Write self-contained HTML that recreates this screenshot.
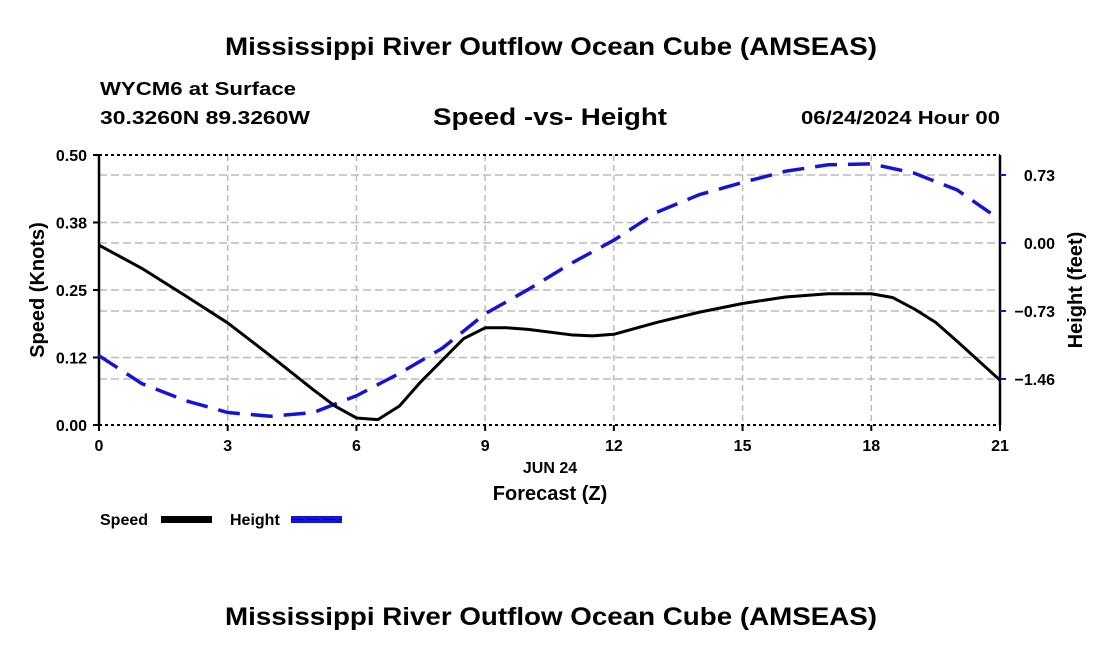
<!DOCTYPE html>
<html><head><meta charset="utf-8"><style>
body{margin:0;background:#fff}
svg{display:block;font-family:"Liberation Sans",sans-serif;font-weight:bold}
</style></head><body>
<svg id="chart" width="1100" height="650" viewBox="0 0 1100 650" xmlns="http://www.w3.org/2000/svg">
<rect width="1100" height="650" fill="#fff"/>
<text x="225" y="55" font-size="25" textLength="652" lengthAdjust="spacingAndGlyphs">Mississippi River Outflow Ocean Cube (AMSEAS)</text>
<text x="100" y="95" font-size="18" textLength="196" lengthAdjust="spacingAndGlyphs">WYCM6 at Surface</text>
<text x="100" y="124" font-size="18" textLength="210" lengthAdjust="spacingAndGlyphs">30.3260N  89.3260W</text>
<text x="433" y="125" font-size="24" textLength="234" lengthAdjust="spacingAndGlyphs">Speed -vs- Height</text>
<text x="801" y="124" font-size="18" textLength="199" lengthAdjust="spacingAndGlyphs">06/24/2024 Hour 00</text>
<g id="grid"></g>
<g id="axes"></g>
<g id="series"></g>
<text x="550" y="473" font-size="16" text-anchor="middle">JUN 24</text>
<text x="550" y="500" font-size="20" text-anchor="middle">Forecast (Z)</text>
<text transform="translate(44,290) rotate(-90)" font-size="20" text-anchor="middle">Speed (Knots)</text>
<text transform="translate(1082,290) rotate(-90)" font-size="20" text-anchor="middle">Height (feet)</text>
<g>
<text x="100" y="525" font-size="16">Speed</text>
<rect x="161" y="516" width="51" height="7" fill="#000"/>
<text x="230" y="525" font-size="16">Height</text>
<rect x="291" y="516" width="51" height="7" fill="#1414d8"/>
<line x1="291" y1="519.5" x2="342" y2="519.5" stroke="#0000a0" stroke-width="1" stroke-dasharray="12,4"/>
</g>
<text x="225" y="625" font-size="25" textLength="652" lengthAdjust="spacingAndGlyphs">Mississippi River Outflow Ocean Cube (AMSEAS)</text>
</svg>
<script>
const hours=[0,1,2,3,4,5,5.5,6,6.5,7,7.5,8,8.5,9,9.5,10,11,11.5,12,13,14,15,16,17,18,18.5,19,19.5,20,21];
const speed=[0.333,0.29,0.24,0.189,0.128,0.065,0.035,0.013,0.01,0.035,0.08,0.12,0.16,0.18,0.18,0.177,0.167,0.165,0.168,0.19,0.209,0.225,0.237,0.243,0.243,0.236,0.215,0.19,0.155,0.083];
const hHours=[0,1,2,3,4,5,6,7,8,9,10,11,12,13,14,15,16,17,18,19,20,21];
const height=[-1.21,-1.51,-1.69,-1.82,-1.86,-1.82,-1.64,-1.40,-1.13,-0.76,-0.50,-0.22,0.03,0.33,0.52,0.65,0.77,0.84,0.85,0.75,0.57,0.25];
const xTicks=[0,3,6,9,12,15,18,21];
const leftTicks=[0,0.125,0.25,0.375,0.5];
const leftLabels=["0.00","0.12","0.25","0.38","0.50"];
const rightTicks=[-1.46,-0.73,0,0.73];
const rightLabels=["\u22121.46","\u22120.73","0.00","0.73"];
const NS="http://www.w3.org/2000/svg";
const X0=99,X1=1000,Y0=425,Y1=155;
const xs=h=>X0+(X1-X0)*h/21;
const ysL=v=>Y0-(Y0-Y1)*v/0.5;
const ysR=v=>243-v*(68/0.73);
function mk(tag,attrs,parent){const e=document.createElementNS(NS,tag);for(const k in attrs)e.setAttribute(k,attrs[k]);parent.appendChild(e);return e;}
const grid=document.getElementById('grid'),axes=document.getElementById('axes'),series=document.getElementById('series');
xTicks.forEach(t=>{if(t>0&&t<21){const l=mk('line',{x1:xs(t),x2:xs(t),y1:Y1,y2:Y0,stroke:'#bbb','stroke-width':1.5,'stroke-dasharray':'6,4'},grid);}});
leftTicks.forEach(t=>{if(t>0&&t<0.5){const l=mk('line',{x1:X0,x2:X1,y1:ysL(t),y2:ysL(t),stroke:'#bbb','stroke-width':1.5,'stroke-dasharray':'8,4'},grid);}});
rightTicks.forEach(t=>{const l=mk('line',{x1:X0,x2:X1,y1:ysR(t),y2:ysR(t),stroke:'#bbb','stroke-width':1.5,'stroke-dasharray':'8,4'},grid);});
[[X0,Y1,X1,Y1],[X0,Y0,X1,Y0]].forEach(c=>{const l=mk('line',{x1:c[0],y1:c[1],x2:c[2],y2:c[3],stroke:'#000','stroke-width':2,'stroke-dasharray':'3,3'},axes);});
[[X0,Y1,X0,Y0],[X1,Y1,X1,Y0]].forEach(c=>{const l=mk('line',{x1:c[0],y1:c[1],x2:c[2],y2:c[3],stroke:'#000','stroke-width':2.5},axes);});
xTicks.forEach(t=>{
 const l=mk('line',{x1:xs(t),x2:xs(t),y1:Y0,y2:Y0+6,stroke:'#000','stroke-width':2},axes);
 const tx=mk('text',{x:xs(t),y:Y0+26,'font-size':16,'text-anchor':'middle'},axes);tx.textContent=t;});
leftTicks.forEach((t,i)=>{
 const l=mk('line',{x1:X0-6,x2:X0,y1:ysL(t),y2:ysL(t),stroke:'#000','stroke-width':2},axes);
 const tx=mk('text',{x:X0-12,y:ysL(t)+6,'font-size':16,'text-anchor':'end'},axes);tx.textContent=leftLabels[i];});
rightTicks.forEach((t,i)=>{
 const l=mk('line',{x1:X1,x2:X1+6,y1:ysR(t),y2:ysR(t),stroke:'#1414d8','stroke-width':2},axes);
 const tx=mk('text',{x:1055,y:ysR(t)+6,'font-size':16,'text-anchor':'end'},axes);tx.textContent=rightLabels[i];});
const hp=mk('polyline',{points:hHours.map((h,i)=>xs(h)+','+ysR(height[i])).join(' '),fill:'none',stroke:'#1414d8','stroke-width':3.5,'stroke-dasharray':'22,11'},series);


const sp=mk('polyline',{points:hours.map((h,i)=>xs(h)+','+ysL(speed[i])).join(' '),fill:'none',stroke:'#000','stroke-width':3,'stroke-linejoin':'round'},series);


</script>
</body></html>
